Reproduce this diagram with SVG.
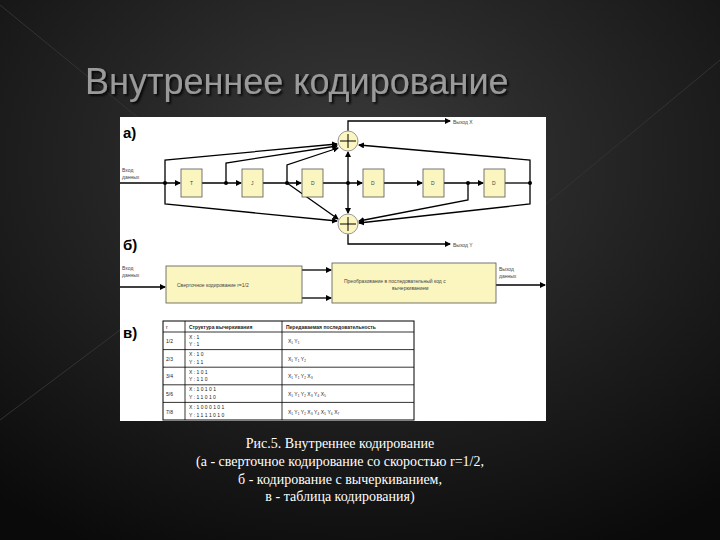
<svg xmlns="http://www.w3.org/2000/svg" width="720" height="540" viewBox="0 0 720 540">
<defs>
<radialGradient id="bg" cx="0.5" cy="0.3" r="0.8"><stop offset="0" stop-color="#3a3a3a"/><stop offset="1" stop-color="#0a0a0a"/></radialGradient>
<filter id="sh"><feDropShadow dx="2" dy="2" stdDeviation="1" flood-color="#000" flood-opacity="0.8"/></filter>
<marker id="a" markerWidth="6" markerHeight="6" refX="5" refY="3" orient="auto" markerUnits="userSpaceOnUse"><path d="M0,0 L6,3 L0,6z" fill="#000"/></marker>
<style>
.b{fill:#fbf5c0;stroke:#555;stroke-width:0.8}
.l{fill:none;stroke:#000;stroke-width:1.3}
.s{font-family:"Liberation Sans",sans-serif;font-size:5px;fill:#444}
.t{font-family:"Liberation Sans",sans-serif;font-size:5px;fill:#222}
.h{font-family:"Liberation Sans",sans-serif;font-size:15px;font-weight:bold;fill:#000}
.c{font-family:"Liberation Serif",serif;font-size:14px;fill:#fff;text-anchor:middle}
</style>
</defs>
<rect width="720" height="540" fill="url(#bg)"/>
<path d="M0,5 L300,250 M720,60 L430,300 M0,420 L120,330" stroke="#333" stroke-width="1" fill="none"/>
<text x="85" y="94" font-family="Liberation Sans,sans-serif" font-size="36" fill="#9a9a9a" filter="url(#sh)">Внутреннее кодирование</text>
<rect x="120" y="117" width="426" height="304" fill="#fff"/>
<text class="h" x="123" y="138">а)</text>
<text class="h" x="123" y="250">б)</text>
<text class="h" x="123" y="338">в)</text>
<g id="connectors">
<path class="l" d="M120,183 H180" marker-end="url(#a)"/>
<path class="l" d="M202,183 H241" marker-end="url(#a)"/>
<path class="l" d="M263,183 H301" marker-end="url(#a)"/>
<path class="l" d="M323,183 H362" marker-end="url(#a)"/>
<path class="l" d="M384,183 H422" marker-end="url(#a)"/>
<path class="l" d="M444,183 H483" marker-end="url(#a)"/>
<path class="l" d="M505,183 H530"/>
<path class="l" d="M165,183 V160 L337,144" marker-end="url(#a)"/>
<path class="l" d="M226,183 V163 L337,146" marker-end="url(#a)"/>
<path class="l" d="M287,183 V165 L338,148" marker-end="url(#a)"/>
<path class="l" d="M348,183 V152" marker-end="url(#a)"/>
<path class="l" d="M530,183 V160 L359,145" marker-end="url(#a)"/>
<path class="l" d="M165,183 V204 L337,221" marker-end="url(#a)"/>
<path class="l" d="M287,183 L338,219" marker-end="url(#a)"/>
<path class="l" d="M348,183 V213" marker-end="url(#a)"/>
<path class="l" d="M468,183 V200 L359,221" marker-end="url(#a)"/>
<path class="l" d="M530,183 V204 L359,223" marker-end="url(#a)"/>
<path class="l" d="M348,131 V121 H450" marker-end="url(#a)"/>
<path class="l" d="M348,234 V244 H450" marker-end="url(#a)"/>
<g fill="#000"><circle cx="165" cy="183" r="2"/><circle cx="226" cy="183" r="2"/><circle cx="287" cy="183" r="2"/><circle cx="348" cy="183" r="2"/><circle cx="468" cy="183" r="2"/><circle cx="530" cy="183" r="2"/></g>
<path class="l" d="M120,287 H165" marker-end="url(#a)"/>
<path class="l" d="M302,270 H331" marker-end="url(#a)"/>
<path class="l" d="M302,298 H331" marker-end="url(#a)"/>
<path class="l" d="M496,285 H545" marker-end="url(#a)"/>
</g>
<g id="regs">
<rect class="b" x="181" y="169" width="21" height="28"/><rect class="b" x="242" y="169" width="21" height="28"/><rect class="b" x="302" y="169" width="21" height="28"/><rect class="b" x="363" y="169" width="21" height="28"/><rect class="b" x="423" y="169" width="21" height="28"/><rect class="b" x="484" y="169" width="21" height="28"/>
<g class="s"><text x="190" y="185">T</text><text x="251" y="185">J</text><text x="311" y="185">D</text><text x="371" y="185">D</text><text x="431" y="185">D</text><text x="492" y="185">D</text></g>
</g>
<g id="addX"><circle cx="348" cy="141" r="10" fill="#fbf5c0" stroke="#999"/><path d="M340,141 H356 M348,134 V148" stroke="#000"/></g>
<g id="addY"><circle cx="348" cy="224" r="10" fill="#fbf5c0" stroke="#999"/><path d="M340,224 H356 M348,217 V231" stroke="#000"/></g>
<g class="s"><text x="122" y="172">Вход</text><text x="122" y="179">данных</text><text x="453" y="124">Выход X</text><text x="453" y="247">Выход Y</text>
<text x="122" y="270">Вход</text><text x="122" y="277">данных</text><text x="499" y="271">Выход</text><text x="499" y="278">данных</text></g>
<g id="conv"><rect class="b" x="166" y="266" width="136" height="37"/><text class="s" x="177" y="287">Сверточное кодирование r=1/2</text></g>
<g id="punct"><rect class="b" x="332" y="263" width="164" height="40"/><text class="s" x="344" y="283">Преобразование в последовательный код с</text><text class="s" x="392" y="290">вычеркиванием</text></g>
<g id="table" class="t">
<rect x="163" y="321" width="251" height="99" fill="none" stroke="#000" stroke-width="1"/>
<path d="M185,321 V420 M282,321 V420 M163,332 H414 M163,349.6 H414 M163,367.2 H414 M163,384.8 H414 M163,402.4 H414" stroke="#000" stroke-width="0.8"/>
<text x="166" y="329">r</text><text x="189" y="329" font-weight="bold">Структура вычеркивания</text><text x="286" y="329" font-weight="bold">Передаваемая последовательность</text>
<text x="166" y="343">1/2</text><text x="189" y="339">X : 1</text><text x="189" y="346">Y : 1</text><text x="288" y="343">X₁ Y₁</text>
<text x="166" y="361">2/3</text><text x="189" y="356">X : 1 0</text><text x="189" y="364">Y : 1 1</text><text x="288" y="361">X₁ Y₁ Y₂</text>
<text x="166" y="378">3/4</text><text x="189" y="374">X : 1 0 1</text><text x="189" y="381">Y : 1 1 0</text><text x="288" y="378">X₁ Y₁ Y₂ X₃</text>
<text x="166" y="396">5/6</text><text x="189" y="391">X : 1 0 1 0 1</text><text x="189" y="399">Y : 1 1 0 1 0</text><text x="288" y="396">X₁ Y₁ Y₂ X₃ Y₄ X₅</text>
<text x="166" y="414">7/8</text><text x="189" y="409">X : 1 0 0 0 1 0 1</text><text x="189" y="417">Y : 1 1 1 1 0 1 0</text><text x="288" y="414">X₁ Y₁ Y₂ X₃ Y₄ X₅ Y₆ X₇</text>
</g>
<g id="caption"><text class="c" x="340" y="448">Рис.5. Внутреннее кодирование</text><text class="c" x="340" y="466">(а - сверточное кодирование со скоростью r=1/2,</text><text class="c" x="340" y="484">б - кодирование с вычеркиванием,</text><text class="c" x="340" y="501">в - таблица кодирования)</text></g>
</svg>
